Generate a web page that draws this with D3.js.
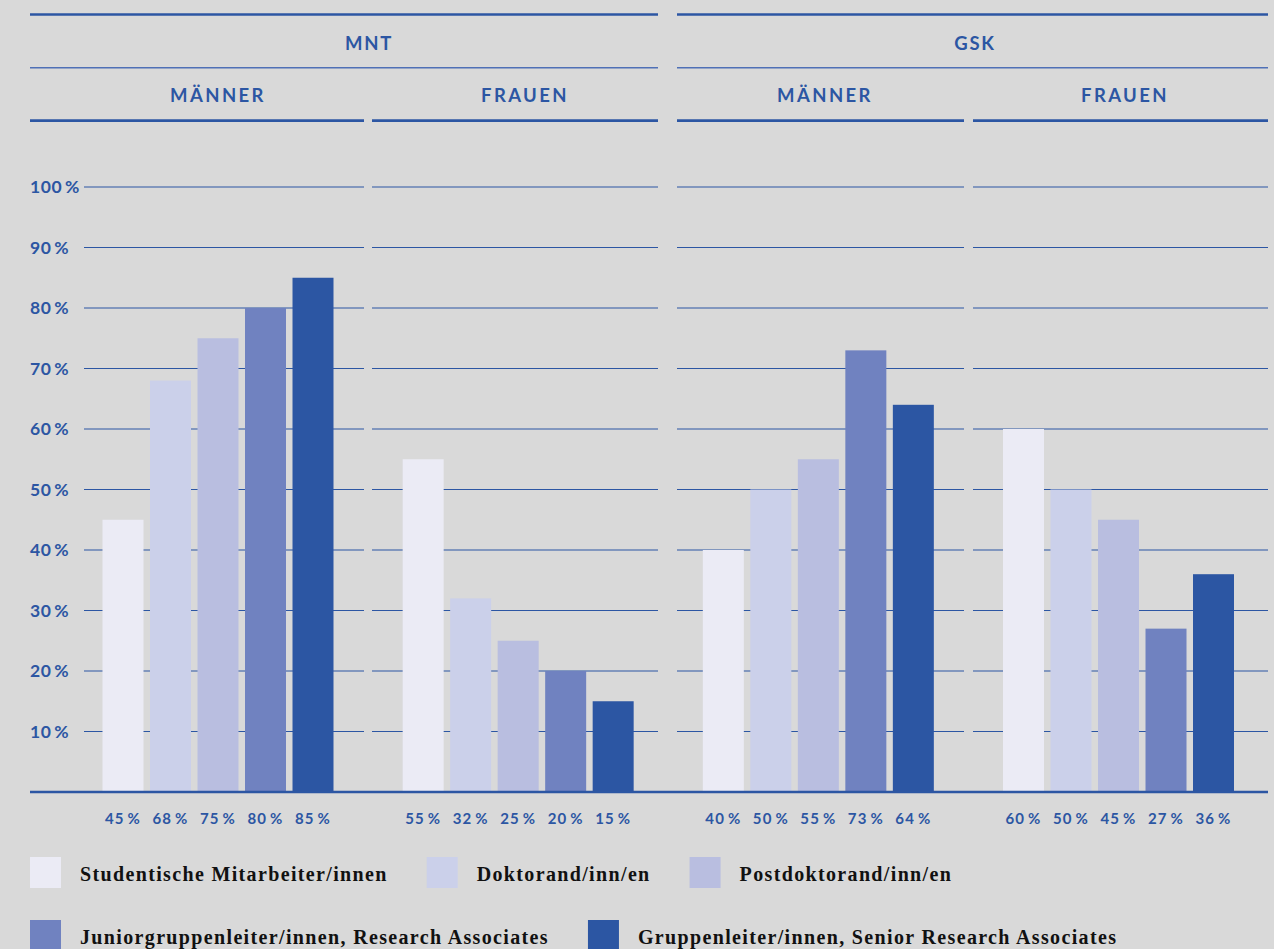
<!DOCTYPE html>
<html><head><meta charset="utf-8">
<script src="https://cdn.jsdelivr.net/npm/d3@7"></script>
<style>
html,body{margin:0;padding:0;background:#d9d9d9;}
svg{display:block;}
</style></head><body>
<svg id="c" width="1274" height="949"></svg>
<script>
const categories = ["Studentische Mitarbeiter/innen","Doktorand/inn/en","Postdoktorand/inn/en","Juniorgruppenleiter/innen, Research Associates","Gruppenleiter/innen, Senior Research Associates"];
const groups = ["MNT Männer","MNT Frauen","GSK Männer","GSK Frauen"];
const mntMaenner = [45,68,75,80,85];
const mntFrauen = [55,32,25,20,15];
const gskMaenner = [40,50,55,73,64];
const gskFrauen = [60,50,45,27,36];
const yTicks = [10,20,30,40,50,60,70,80,90,100];
const colors = ["#ebebf5","#cbd0ea","#b9bee0","#7082c0","#2c56a3"];
const series = [mntMaenner,mntFrauen,gskMaenner,gskFrauen];

const blue = "#2c56a3";
const svg = d3.select("#c");
const sans = "Lato, 'Open Sans', sans-serif";

const y = d3.scaleLinear().domain([0,100]).range([792,187]);
const gx = d3.scaleLinear().domain([0,3]).range([102.5,1003]);
const bx = d3.scaleBand().domain(d3.range(5)).range([0,231]).paddingInner(0.137);

const panels = [[84,364],[372,658],[677,964],[973,1268]];
const majors = [{name:"MNT",x0:30,x1:658,cx:369},{name:"GSK",x0:677,x1:1268,cx:975}];
const subLabelX = [218,525,825,1125];
const subNames = ["MÄNNER","FRAUEN","MÄNNER","FRAUEN"];

majors.forEach(m=>{
  svg.append("line").attr("x1",m.x0).attr("x2",m.x1).attr("y1",14.5).attr("y2",14.5).attr("stroke",blue).attr("stroke-width",2.7);
  svg.append("line").attr("x1",m.x0).attr("x2",m.x1).attr("y1",67.7).attr("y2",67.7).attr("stroke","#4f70b6").attr("stroke-width",1.4);
  svg.append("text").attr("x",m.cx).attr("y",49.5).attr("text-anchor","middle")
    .attr("font-family",sans).attr("font-weight",700).attr("font-size",18.5).attr("letter-spacing",1.8)
    .attr("fill",blue).text(m.name);
});
const headPanels = [[30,364],[372,658],[677,964],[973,1268]];
headPanels.forEach((p,i)=>{
  svg.append("line").attr("x1",p[0]).attr("x2",p[1]).attr("y1",120.7).attr("y2",120.7).attr("stroke",blue).attr("stroke-width",2.8);
  svg.append("text").attr("x",subLabelX[i]).attr("y",101.5).attr("text-anchor","middle")
    .attr("font-family",sans).attr("font-weight",700).attr("font-size",18.5).attr("letter-spacing",2.4)
    .attr("fill",blue).text(subNames[i]);
});

panels.forEach(p=>{
  svg.append("g").selectAll("line").data(yTicks).join("line")
    .attr("x1",p[0]).attr("x2",p[1]).attr("y1",d=>y(d)).attr("y2",d=>y(d))
    .attr("stroke",blue).attr("stroke-width",1.2);
});
svg.append("g").selectAll("text").data(yTicks).join("text")
  .attr("x",30).attr("y",d=>y(d)).attr("dy","0.36em")
  .attr("font-family",sans).attr("font-weight",700).attr("font-size",17.5).attr("letter-spacing",0.6)
  .attr("fill",blue).text(d=>d+"\u2009%");

series.forEach((vals,gi)=>{
  const g = svg.append("g").attr("transform",`translate(${gx(gi)},0)`);
  g.selectAll("rect").data(vals).join("rect")
    .attr("x",(d,i)=>bx(i)).attr("width",bx.bandwidth())
    .attr("y",d=>y(d)).attr("height",d=>y(0)-y(d))
    .attr("fill",(d,i)=>colors[i]);
  g.selectAll("text").data(vals).join("text")
    .attr("x",(d,i)=>bx(i)+bx.bandwidth()/2).attr("y",824)
    .attr("text-anchor","middle")
    .attr("font-family",sans).attr("font-weight",700).attr("font-size",15).attr("letter-spacing",1.1)
    .attr("fill",blue).text(d=>d+"\u2009%");
});

svg.append("line").attr("x1",30).attr("x2",1268).attr("y1",y(0)).attr("y2",y(0)).attr("stroke",blue).attr("stroke-width",2.4);

const rows = [[0,1,2],[3,4]];
const rowY = [857,920];
rows.forEach((r,ri)=>{
  let x = 30;
  r.forEach(ci=>{
    svg.append("rect").attr("x",x).attr("y",rowY[ri]).attr("width",31).attr("height",31).attr("fill",colors[ci]);
    const t = svg.append("text").attr("x",x+50).attr("y",rowY[ri]+24)
      .attr("font-family","'Liberation Serif', serif").attr("font-weight",700).attr("font-size",20).attr("letter-spacing",1.35)
      .attr("fill","#111").text(categories[ci]);
    x = x + 50 + t.node().getComputedTextLength() + 39;
  });
});
</script>
</body></html>
